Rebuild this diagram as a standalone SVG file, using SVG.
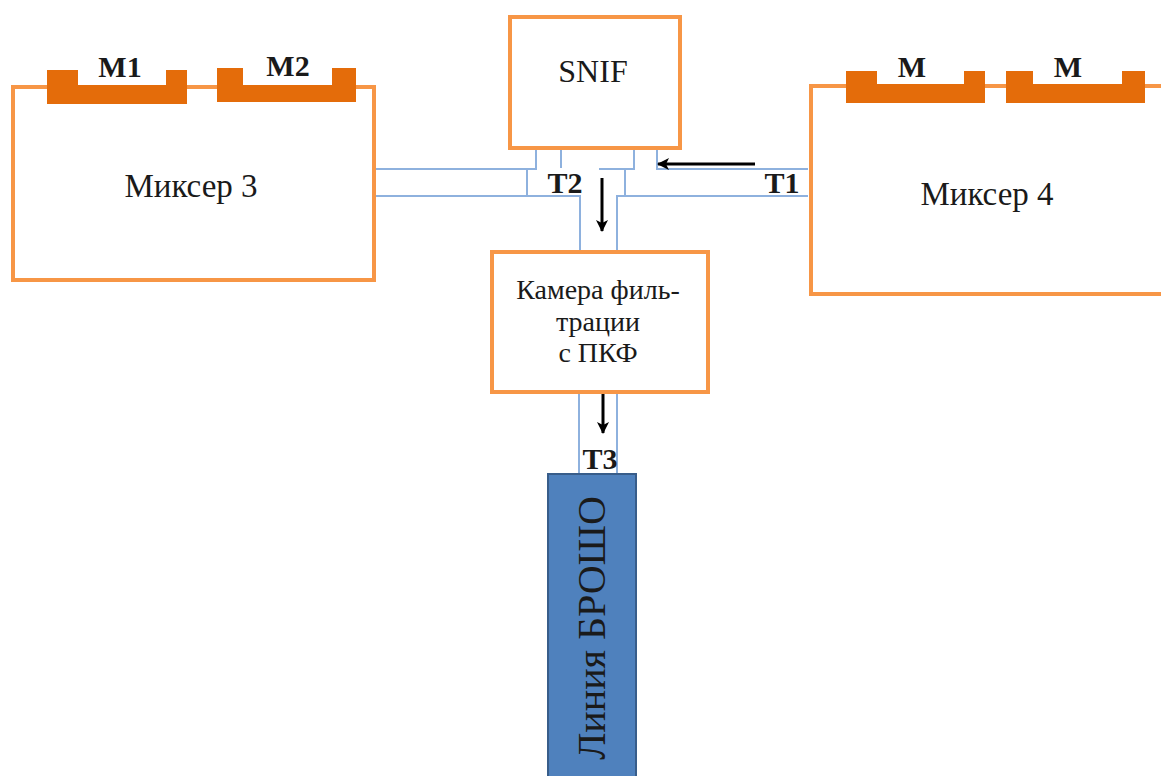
<svg xmlns="http://www.w3.org/2000/svg" width="1161" height="776" viewBox="0 0 1161 776">
<style>
.box{fill:#fff;stroke:#F79646;stroke-width:4}
.motor{fill:#E46C0A}
.pipe{fill:none;stroke:#8EB1DE;stroke-width:2}
.arr{stroke:#000;stroke-width:3;fill:none;marker-end:url(#ah)}
text{font-family:'Liberation Serif','Times New Roman',Times,serif;fill:#1a1a1a}
.b{font-weight:bold;font-size:30px}
</style>
<defs>
<marker id="ah" markerWidth="12" markerHeight="12" refX="11" refY="6" orient="auto" markerUnits="userSpaceOnUse" viewBox="0 0 12 12">
<path d="M0,0 L12,6 L0,12 L3,6 Z" fill="#000"/>
</marker>
</defs>
<rect width="1161" height="776" fill="#fff"/>
<g id="connectors">
<path class="pipe" d="M375,169 H536 V150"/>
<path class="pipe" d="M375,196 H580 V250"/>
<path class="pipe" d="M527,169 V196"/>
<path class="pipe" d="M561,150 V168"/>
<path class="pipe" d="M599,169 H634 V150"/>
<path class="pipe" d="M625,169 V196"/>
<path class="pipe" d="M808,196 H617 V250"/>
<path class="pipe" d="M657,150 V169 H808"/>
<path class="pipe" d="M579,393 V475"/>
<path class="pipe" d="M617,393 V475"/>
<line class="arr" x1="553" y1="96" x2="553" y2="148"/>
<line class="arr" x1="648" y1="149" x2="648" y2="95"/>
<line class="arr" x1="755" y1="164" x2="658" y2="164"/>
<line class="arr" x1="602" y1="178" x2="602" y2="231"/>
<line class="arr" x1="603" y1="377" x2="603" y2="433"/>
</g>
<g id="mixer3">
<rect class="box" x="13" y="87" width="361" height="193"/>
<text x="191" y="197" font-size="33" text-anchor="middle" font-family="Liberation Serif, serif">Миксер 3</text>
</g>
<g id="m1">
<path class="motor" d="M47,70 H78 V85 H166 V70 H187 V104 H47 Z"/>
<text class="b" x="120" y="77" text-anchor="middle">M1</text>
</g>
<g id="m2">
<path class="motor" d="M217,68 H243 V85 H332 V68 H356 V102 H217 Z"/>
<text class="b" x="288" y="76" text-anchor="middle">M2</text>
</g>
<g id="mixer4">
<path class="box" d="M1165,86 H811 V294 H1165"/>
<text x="987" y="205" font-size="33" text-anchor="middle" font-family="Liberation Serif, serif">Миксер 4</text>
</g>
<g id="m3">
<path class="motor" d="M846,71 H877 V84 H964 V71 H985 V103 H846 Z"/>
<text class="b" x="912" y="77" text-anchor="middle">M</text>
</g>
<g id="m4">
<path class="motor" d="M1006,71 H1033 V84 H1122 V71 H1145 V103 H1006 Z"/>
<text class="b" x="1068" y="77" text-anchor="middle">M</text>
</g>
<g id="snif">
<rect class="box" x="510" y="17" width="170" height="131"/>
<text x="593" y="82" font-size="32" text-anchor="middle">SNIF</text>
</g>
<g id="chamber">
<rect class="box" x="492" y="252" width="216" height="140"/>
<text x="598" y="299" font-size="28" text-anchor="middle">Камера филь-</text>
<text x="598" y="331" font-size="28" text-anchor="middle">трации</text>
<text x="598" y="362" font-size="28" text-anchor="middle">с ПКФ</text>
</g>
<g id="labels">
<text class="b" x="565" y="193" text-anchor="middle">T2</text>
<text class="b" x="782" y="193" text-anchor="middle">T1</text>
<text class="b" x="600" y="469" text-anchor="middle">T3</text>
</g>
<g id="line">
<rect x="548" y="474" width="88" height="310" fill="#4F81BD" stroke="#385D8A" stroke-width="2"/>
<text transform="translate(605,628) rotate(-90)" font-size="40" text-anchor="middle">Линия БРОШО</text>
</g>
</svg>
